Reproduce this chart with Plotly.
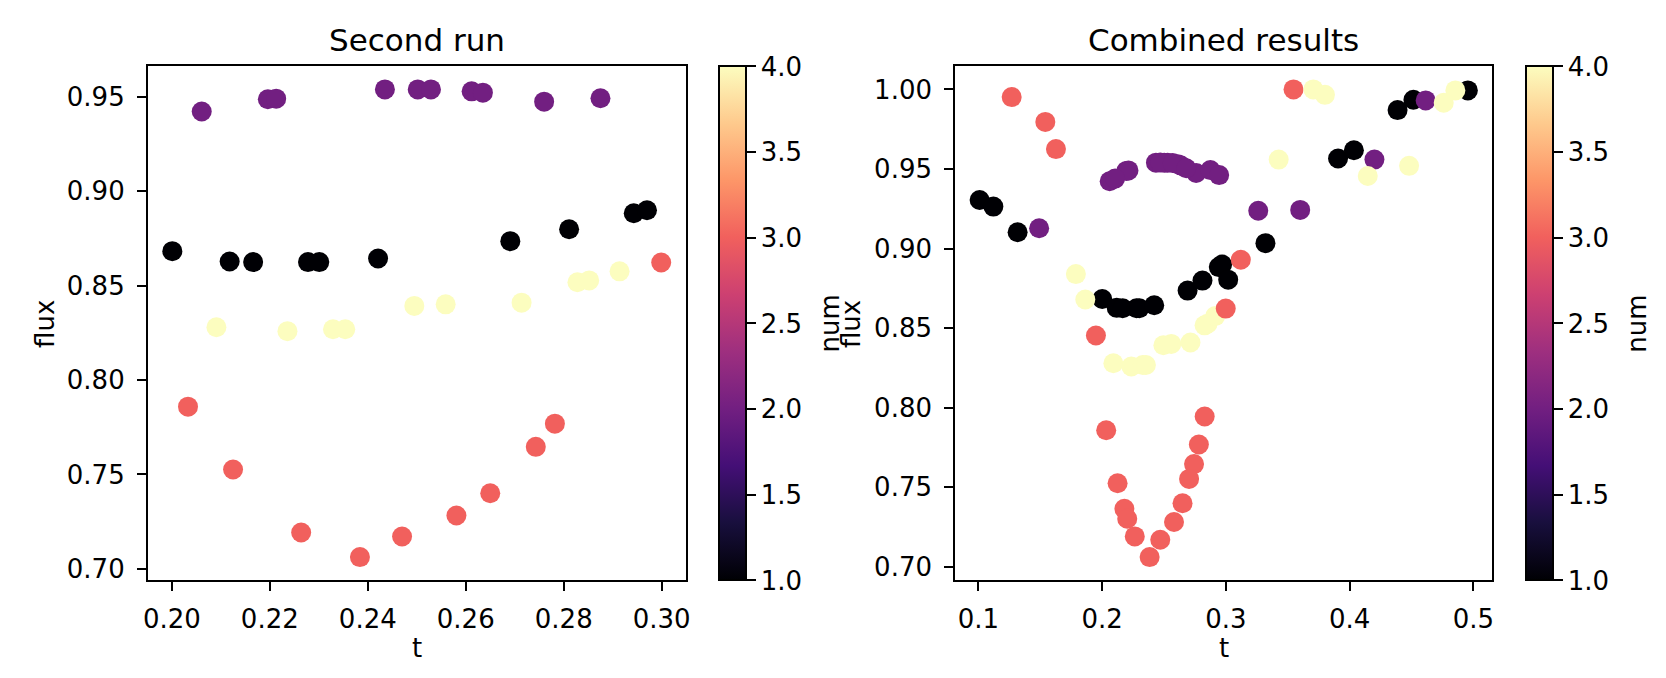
import numpy as np
import plotly.graph_objects as go
from plotly.subplots import make_subplots

# second run: 10 points for each num value
second_t = [0.2061, 0.2196, 0.2213, 0.2435, 0.2502, 0.2529, 0.2612, 0.2635, 0.2760, 0.2875,
            0.2001, 0.2118, 0.2166, 0.2278, 0.2301, 0.2421, 0.2691, 0.2811, 0.2943, 0.2970,
            0.2091, 0.2236, 0.2329, 0.2354, 0.2495, 0.2559, 0.2714, 0.2828, 0.2852, 0.2914,
            0.2033, 0.2125, 0.2264, 0.2384, 0.2470, 0.2581, 0.2650, 0.2743, 0.2782, 0.2999]
second_flux = [0.9423, 0.9488, 0.9491, 0.9540, 0.9540, 0.9540, 0.9530, 0.9523, 0.9475, 0.9493,
               0.8683, 0.8628, 0.8625, 0.8625, 0.8625, 0.8644, 0.8736, 0.8799, 0.8884, 0.8900,
               0.8280, 0.8259, 0.8269, 0.8269, 0.8393, 0.8401, 0.8410, 0.8518, 0.8528, 0.8576,
               0.7859, 0.7526, 0.7192, 0.7062, 0.7171, 0.7282, 0.7400, 0.7646, 0.7769, 0.8623]
second_num = [2] * 10 + [1] * 10 + [4] * 10 + [3] * 10

# remaining points that only show up in the combined results
other_t = [0.1010, 0.1121, 0.1317, 0.3019, 0.3320, 0.3907, 0.4035, 0.4388, 0.4516, 0.4956,
           0.1491, 0.2105, 0.2470, 0.2570, 0.2680, 0.2946, 0.3262, 0.3601, 0.4201, 0.4615,
           0.1269, 0.1541, 0.1627, 0.1950, 0.2180, 0.2203, 0.2703, 0.2829, 0.3121, 0.3547,
           0.1788, 0.1864, 0.3427, 0.3707, 0.3801, 0.4147, 0.4481, 0.4761, 0.4855]
other_flux = [0.9305, 0.9264, 0.9103, 0.8805, 0.9034, 0.9566, 0.9618, 0.9870, 0.9935, 0.9994,
              0.9128, 0.9440, 0.9541, 0.9537, 0.9505, 0.9462, 0.9238, 0.9243, 0.9559, 0.9931,
              0.9952, 0.9796, 0.9625, 0.8454, 0.7365, 0.7303, 0.7553, 0.7945, 0.8930, 1.0000,
              0.8840, 0.8680, 0.9559, 1.0000, 0.9966, 0.9456, 0.9520, 0.9916, 0.9994]
other_num = [1] * 10 + [2] * 10 + [3] * 10 + [4] * 9

comb_t = second_t + other_t
comb_flux = second_flux + other_flux
comb_num = second_num + other_num

W, H = 1666, 678
FONT = "DejaVu Sans"
magma = ['#000004', '#180f3d', '#440f76', '#721f81', '#9e2f7f',
         '#cd4071', '#f1605d', '#fd9668', '#feca8d', '#fcfdbf']


def pad(vals):
    # same 5% margins matplotlib adds around the data
    lo, hi = min(vals), max(vals)
    m = (hi - lo) * 0.05
    return [lo - m, hi + m]


def px_x(p):
    return p / W


def px_y(p):
    return 1 - p / H


y0, y1 = px_y(575), px_y(58.3)

fig = make_subplots(rows=1, cols=2)

cbar_common = dict(thickness=27, thicknessmode="pixels", len=y1 - y0, lenmode="fraction",
                   y=y0, yanchor="bottom", xanchor="left", xpad=0, ypad=0,
                   outlinewidth=2, outlinecolor="black",
                   ticks="outside", ticklen=9, tickwidth=2, tickcolor="black",
                   tickvals=[1.0, 1.5, 2.0, 2.5, 3.0, 3.5, 4.0], tickformat=".1f",
                   tickfont=dict(family=FONT, size=26, color="black"))

fig.add_trace(go.Scatter(
    x=second_t, y=second_flux, mode="markers",
    marker=dict(size=20, color=second_num, colorscale=magma, cmin=1, cmax=4,
                line=dict(width=0), showscale=True,
                colorbar=dict(x=px_x(710), **cbar_common)),
    showlegend=False), row=1, col=1)

fig.add_trace(go.Scatter(
    x=comb_t, y=comb_flux, mode="markers",
    marker=dict(size=20, color=comb_num, colorscale=magma, cmin=1, cmax=4,
                line=dict(width=0), showscale=True,
                colorbar=dict(x=px_x(1521.7), **cbar_common)),
    showlegend=False), row=1, col=2)

axis_common = dict(showline=True, mirror=True, linecolor="black", linewidth=2,
                   ticks="outside", ticklen=9, tickwidth=2, tickcolor="black",
                   showgrid=False, zeroline=False,
                   tickfont=dict(family=FONT, size=26, color="black"))

fig.update_xaxes(domain=[px_x(135.7), px_x(676.7)], range=pad(second_t),
                 tickvals=[0.20, 0.22, 0.24, 0.26, 0.28, 0.30], tickformat=".2f",
                 ticklabelstandoff=5, row=1, col=1, **axis_common)
fig.update_yaxes(domain=[y0, y1], range=pad(second_flux),
                 tickvals=[0.70, 0.75, 0.80, 0.85, 0.90, 0.95], tickformat=".2f",
                 ticklabelstandoff=7, row=1, col=1, **axis_common)
fig.update_xaxes(domain=[px_x(947.9), px_x(1488.2)], range=pad(comb_t),
                 tickvals=[0.1, 0.2, 0.3, 0.4, 0.5], tickformat=".1f",
                 ticklabelstandoff=5, row=1, col=2, **axis_common)
fig.update_yaxes(domain=[y0, y1], range=pad(comb_flux),
                 tickvals=[0.70, 0.75, 0.80, 0.85, 0.90, 0.95, 1.00], tickformat=".2f",
                 ticklabelstandoff=7, row=1, col=2, **axis_common)

labels = [
    ("Second run", px_x(406), px_y(32), 0, 31),
    ("Combined results", px_x(1218), px_y(32), 0, 31),
    ("t", px_x(406), px_y(643), 0, 26),
    ("t", px_x(1218), px_y(643), 0, 26),
    ("flux", px_x(31.5), px_y(317), -90, 26),
    ("flux", px_x(842.5), px_y(317), -90, 26),
    ("num", px_x(821.8), px_y(317), -90, 26),
    ("num", px_x(1633), px_y(317), -90, 26),
]
for text, x, y, ang, size in labels:
    fig.add_annotation(text=text, x=x, y=y, xref="paper", yref="paper",
                       xanchor="center", yanchor="middle", textangle=ang,
                       showarrow=False, font=dict(family=FONT, size=size, color="black"))

fig.update_layout(width=W, height=H, margin=dict(l=0, r=0, t=0, b=0),
                  paper_bgcolor="white", plot_bgcolor="white",
                  font=dict(family=FONT, color="black"))

fig.write_html("out.html")
